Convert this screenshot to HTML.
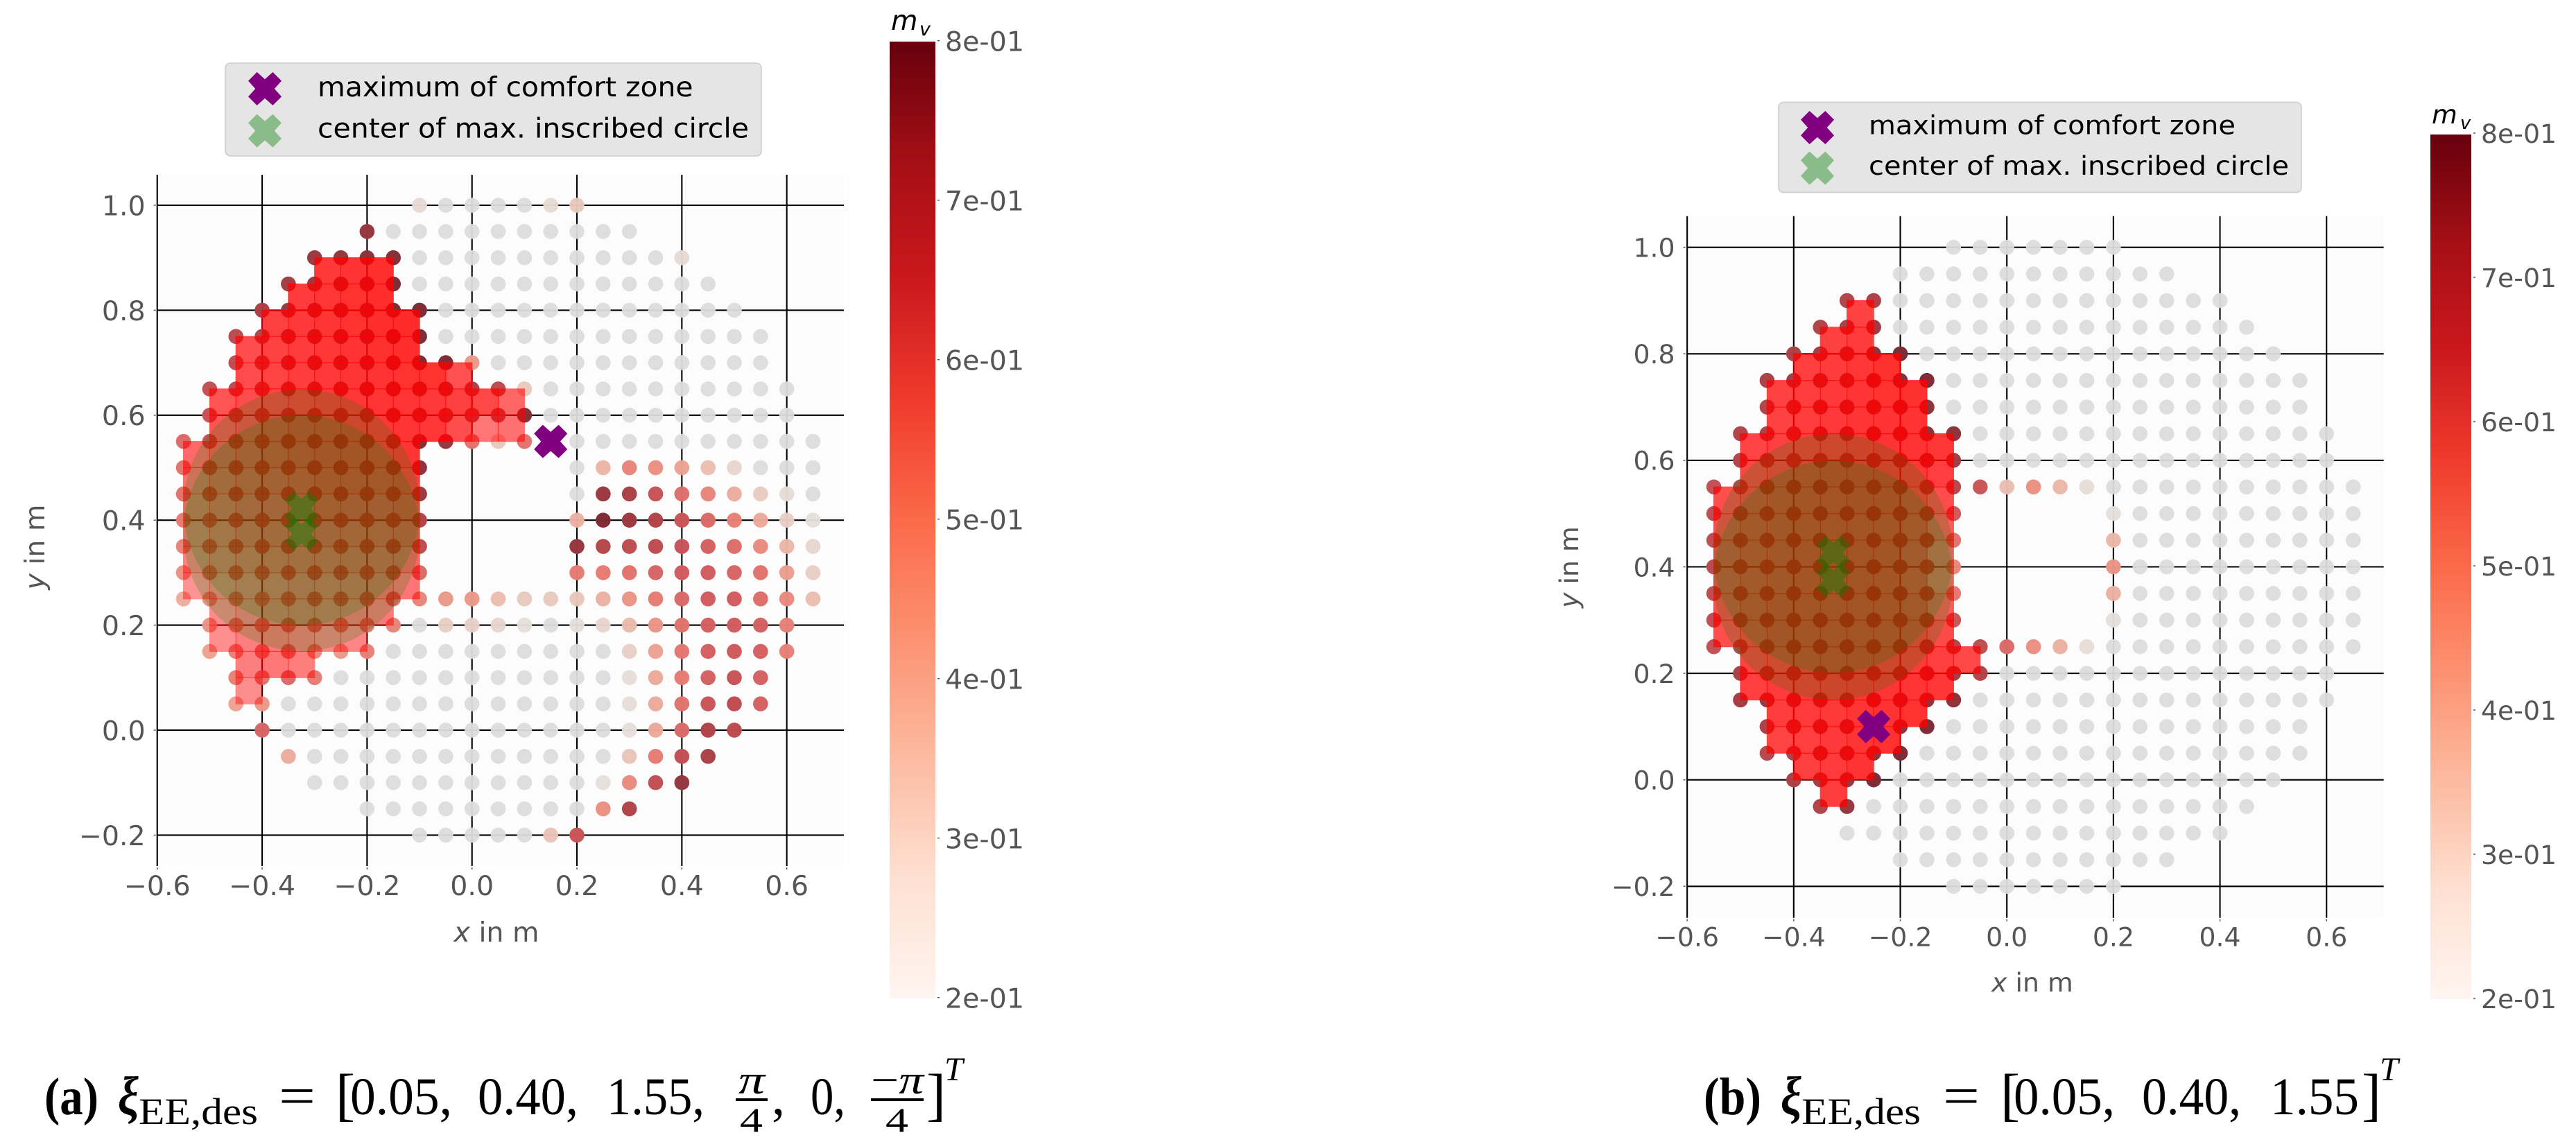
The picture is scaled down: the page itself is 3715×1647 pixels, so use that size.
<!DOCTYPE html>
<html lang="en">
<head>
<meta charset="utf-8">
<title>Comfort zone comparison</title>
<style>
html,body{margin:0;padding:0;background:#fff;width:3715px;height:1647px;overflow:hidden}
svg{display:block}
.sans{font-family:"DejaVu Sans","Liberation Sans",sans-serif}
.serif{font-family:"Liberation Serif",serif;fill:#000}
</style>
</head>
<body>
<svg id="root" class="sans" xmlns="http://www.w3.org/2000/svg" width="3715" height="1647" viewBox="0 0 3715 1647">
<rect x="0" y="0" width="3715" height="1647" fill="#fff"/>
<defs>
<linearGradient id="redsGrad" x1="0" y1="1" x2="0" y2="0">
<stop offset="0" stop-color="#fff5f0"/><stop offset="0.125" stop-color="#fee0d2"/><stop offset="0.25" stop-color="#fcbba1"/><stop offset="0.375" stop-color="#fc9272"/><stop offset="0.5" stop-color="#fb6a4a"/><stop offset="0.625" stop-color="#ef3b2c"/><stop offset="0.75" stop-color="#cb181d"/><stop offset="0.875" stop-color="#a50f15"/><stop offset="1" stop-color="#67000d"/>
</linearGradient>
</defs>
<g id="chartA"></g>
<g id="chartB"></g>

<g class="serif">
<text x="64" y="1607" font-size="76" font-weight="bold" textLength="78" lengthAdjust="spacingAndGlyphs">(a)</text>
<text x="170" y="1607" font-size="78" font-weight="bold" font-style="italic" textLength="30" lengthAdjust="spacingAndGlyphs">ξ</text>
<text x="200" y="1621" font-size="54" textLength="172" lengthAdjust="spacingAndGlyphs">EE,des</text>
<text x="402" y="1607" font-size="78" textLength="53" lengthAdjust="spacingAndGlyphs">=</text>
<text x="484" y="1607" font-size="84">[</text>
<text x="505" y="1607" font-size="76" textLength="147" lengthAdjust="spacingAndGlyphs">0.05,</text>
<text x="689" y="1607" font-size="76" textLength="145" lengthAdjust="spacingAndGlyphs">0.40,</text>
<text x="875" y="1607" font-size="76" textLength="141" lengthAdjust="spacingAndGlyphs">1.55,</text>
<text x="1065" y="1577" font-size="58" font-style="italic" textLength="38" lengthAdjust="spacingAndGlyphs">π</text>
<rect x="1061" y="1584" width="46" height="4" fill="#000"/>
<text x="1067" y="1632" font-size="50" textLength="33" lengthAdjust="spacingAndGlyphs">4</text>
<text x="1113" y="1607" font-size="76">,</text>
<text x="1169" y="1607" font-size="76" textLength="50" lengthAdjust="spacingAndGlyphs">0,</text>
<text x="1256" y="1577" font-size="58" textLength="76" lengthAdjust="spacingAndGlyphs">−<tspan font-style="italic">π</tspan></text>
<rect x="1256" y="1584" width="76" height="4" fill="#000"/>
<text x="1277" y="1632" font-size="50" textLength="33" lengthAdjust="spacingAndGlyphs">4</text>
<text x="1336" y="1607" font-size="84">]</text>
<text x="1362" y="1558" font-size="48" font-style="italic">T</text>
</g>

<g class="serif">
<text x="2457" y="1607" font-size="76" font-weight="bold" textLength="83" lengthAdjust="spacingAndGlyphs">(b)</text>
<text x="2568" y="1607" font-size="78" font-weight="bold" font-style="italic" textLength="30" lengthAdjust="spacingAndGlyphs">ξ</text>
<text x="2598" y="1621" font-size="54" textLength="172" lengthAdjust="spacingAndGlyphs">EE,des</text>
<text x="2802" y="1607" font-size="78" textLength="53" lengthAdjust="spacingAndGlyphs">=</text>
<text x="2885" y="1607" font-size="84">[</text>
<text x="2904" y="1607" font-size="76" textLength="146" lengthAdjust="spacingAndGlyphs">0.05,</text>
<text x="3089" y="1607" font-size="76" textLength="143" lengthAdjust="spacingAndGlyphs">0.40,</text>
<text x="3274" y="1607" font-size="76" textLength="128" lengthAdjust="spacingAndGlyphs">1.55</text>
<text x="3406" y="1607" font-size="84">]</text>
<text x="3432" y="1558" font-size="48" font-style="italic">T</text>
</g>
</svg>

<script>
const _ = null, G = 0;
const gridXValues = [-0.55,-0.5,-0.45,-0.4,-0.35,-0.3,-0.25,-0.2,-0.15,-0.1,-0.05,0,0.05,0.1,0.15,0.2,0.25,0.3,0.35,0.4,0.45,0.5,0.55,0.6,0.65];
const gridYValues = [1,0.95,0.9,0.85,0.8,0.75,0.7,0.65,0.6,0.55,0.5,0.45,0.4,0.35,0.3,0.25,0.2,0.15,0.1,0.05,0,-0.05,-0.1,-0.15,-0.2];
const xTickValues = [-0.6,-0.4,-0.2,0,0.2,0.4,0.6];
const yTickValues = [-0.2,0,0.2,0.4,0.6,0.8,1];
const colorbarTickValues = [0.8,0.7,0.6,0.5,0.4,0.3,0.2];
const colorbarTickLabels = ['8e-01','7e-01','6e-01','5e-01','4e-01','3e-01','2e-01'];
const legendLabels = ['maximum of comfort zone','center of max. inscribed circle'];

const maxComfortA = [0.15,0.55];
const maxComfortB = [-0.25,0.1];
const circleCentersA = [[-0.325,0.4245],[-0.325,0.3755]];
const circleCentersB = [[-0.326,0.4254],[-0.326,0.3746]];
const markerCentersA = [[-0.325,0.4225],[-0.325,0.3737]];
const markerCentersB = [[-0.326,0.427],[-0.326,0.375]];
const circleRadiusA = 0.225;
const circleRadiusB = 0.2245;

const massA = [
[_,_,_,_,_,_,_,_,_,.30,G,G,G,G,.30,.38,_,_,_,_,_,_,_,_,_],
[_,_,_,_,_,_,_,.77,G,G,G,G,G,G,G,G,G,G,_,_,_,_,_,_,_],
[_,_,_,_,_,.76,.77,.78,.79,G,G,G,G,G,G,G,G,G,G,.30,_,_,_,_,_],
[_,_,_,_,.75,.76,.78,.79,.80,G,G,G,G,G,G,G,G,G,G,G,G,_,_,_,_],
[_,_,_,.74,.76,.77,.78,.79,.80,.80,G,G,G,G,G,G,G,G,G,G,G,G,_,_,_],
[_,_,.71,.73,.76,.77,.78,.79,.80,.80,G,G,G,G,G,G,G,G,G,G,G,G,G,_,_],
[_,_,.70,.72,.75,.76,.77,.78,.78,.80,.80,.52,G,G,G,G,G,G,G,G,G,G,G,_,_],
[_,.69,.71,.73,.75,.76,.77,.78,.78,.78,.76,.74,.71,.38,G,G,G,G,G,G,G,G,G,G,_],
[_,.68,.70,.72,.74,.75,.76,.77,.77,.77,.75,.73,.72,.79,G,G,G,G,G,G,G,G,G,G,_],
[.62,.68,.70,.72,.74,.75,.76,.77,.77,.79,.77,.60,.38,.60,_,G,G,G,G,G,G,G,G,G,G],
[.60,.66,.69,.71,.72,.74,.75,.75,.76,.78,_,_,_,_,_,G,.45,.56,.54,.50,.42,.32,G,G,G],
[.60,.65,.67,.69,.70,.72,.73,.73,.73,.76,_,_,_,_,_,G,.76,.74,.68,.61,.56,.47,.37,.28,G],
[.58,.62,.65,.67,.68,.69,.70,.70,.70,.73,_,_,_,_,_,.46,.80,.76,.73,.67,.62,.57,.48,.36,.27],
[.57,.60,.63,.65,.66,.67,.67,.68,.68,.70,_,_,_,_,_,.77,.72,.70,.70,.68,.64,.61,.55,.44,.32],
[.54,.58,.60,.62,.63,.64,.64,.65,.64,.62,_,_,_,_,_,.58,.58,.60,.63,.65,.65,.63,.60,.51,.36],
[.47,.53,.56,.58,.60,.61,.61,.62,.62,.56,.52,.52,.42,.38,.38,.39,.46,.53,.58,.62,.65,.65,.61,.55,.42],
[_,.53,.57,.60,.61,.60,.59,.59,.56,G,.36,.35,.32,.27,G,.25,.32,.43,.53,.60,.64,.65,.64,.57,_],
[_,.50,.57,.60,.60,.55,.52,.57,G,G,G,G,G,G,G,G,G,.35,.50,.59,.64,.66,.64,.57,_],
[_,_,.57,.60,.62,.58,G,G,G,G,G,G,G,G,G,G,G,.28,.48,.58,.64,.68,.64,_,_],
[_,_,.50,.52,G,G,G,G,G,G,G,G,G,G,G,G,G,.28,.48,.60,.67,.70,.64,_,_],
[_,_,_,.63,G,G,G,G,G,G,G,G,G,G,G,G,G,.27,.48,.62,.73,.71,_,_,_],
[_,_,_,_,.47,G,G,G,G,G,G,G,G,G,G,G,G,.40,.58,.69,.74,_,_,_,_],
[_,_,_,_,_,G,G,G,G,G,G,G,G,G,G,G,.27,.55,.69,.77,_,_,_,_,_],
[_,_,_,_,_,_,_,G,G,G,G,G,G,G,G,G,.54,.73,_,_,_,_,_,_,_],
[_,_,_,_,_,_,_,_,_,G,G,G,G,G,.40,.67,_,_,_,_,_,_,_,_,_]
];

const massB = [
[_,_,_,_,_,_,_,_,_,G,G,G,G,G,G,G,_,_,_,_,_,_,_,_,_],
[_,_,_,_,_,_,_,G,G,G,G,G,G,G,G,G,G,G,_,_,_,_,_,_,_],
[_,_,_,_,_,.73,.74,G,G,G,G,G,G,G,G,G,G,G,G,G,_,_,_,_,_],
[_,_,_,_,.73,.74,.76,G,G,G,G,G,G,G,G,G,G,G,G,G,G,_,_,_,_],
[_,_,_,.74,.75,.76,.78,.80,G,G,G,G,G,G,G,G,G,G,G,G,G,G,_,_,_],
[_,_,.74,.75,.76,.77,.78,.79,.80,G,G,G,G,G,G,G,G,G,G,G,G,G,G,_,_],
[_,_,.73,.75,.76,.77,.78,.78,.78,G,G,G,G,G,G,G,G,G,G,G,G,G,G,_,_],
[_,.73,.74,.75,.76,.77,.78,.78,.78,.78,G,G,G,G,G,G,G,G,G,G,G,G,G,G,_],
[_,.73,.74,.75,.76,.77,.78,.78,.78,.75,G,G,G,G,G,G,G,G,G,G,G,G,G,G,_],
[.69,.72,.74,.75,.76,.77,.77,.77,.75,.72,.67,.42,.54,.44,.28,G,G,G,G,G,G,G,G,G,G],
[.70,.73,.74,.75,.76,.76,.76,.76,.73,.66,_,_,_,_,_,.26,G,G,G,G,G,G,G,G,G],
[.70,.73,.74,.75,.76,.76,.76,.75,.72,.60,_,_,_,_,_,.44,G,G,G,G,G,G,G,G,G],
[.71,.73,.74,.75,.76,.76,.76,.75,.70,.56,_,_,_,_,_,.53,G,G,G,G,G,G,G,G,G],
[.70,.73,.74,.75,.76,.76,.76,.75,.71,.59,_,_,_,_,_,.46,G,G,G,G,G,G,G,G,G],
[.70,.73,.75,.75,.76,.76,.76,.75,.74,.67,_,_,_,_,_,.27,G,G,G,G,G,G,G,G,G],
[.69,.72,.74,.75,.76,.76,.76,.76,.75,.73,.70,.62,.54,.46,.28,G,G,G,G,G,G,G,G,G,G],
[_,.74,.75,.76,.76,.77,.77,.77,.77,.75,.73,G,G,G,G,G,G,G,G,G,G,G,G,G,_],
[_,.75,.76,.77,.77,.77,.78,.78,.78,.78,G,G,G,G,G,G,G,G,G,G,G,G,G,G,_],
[_,_,.74,.75,.76,.77,.78,.78,.80,G,G,G,G,G,G,G,G,G,G,G,G,G,G,_,_],
[_,_,.72,.74,.76,.77,.78,.80,G,G,G,G,G,G,G,G,G,G,G,G,G,G,G,_,_],
[_,_,_,.74,.75,.77,.80,G,G,G,G,G,G,G,G,G,G,G,G,G,G,G,_,_,_],
[_,_,_,_,.73,.77,G,G,G,G,G,G,G,G,G,G,G,G,G,G,G,_,_,_,_],
[_,_,_,_,_,G,G,G,G,G,G,G,G,G,G,G,G,G,G,G,_,_,_,_,_],
[_,_,_,_,_,_,_,G,G,G,G,G,G,G,G,G,G,G,_,_,_,_,_,_,_],
[_,_,_,_,_,_,_,_,_,G,G,G,G,G,G,G,_,_,_,_,_,_,_,_,_]
];

const redsStops = [[255,245,240],[254,224,210],[252,187,161],[252,146,114],[251,106,74],[239,59,44],[203,24,29],[165,15,21],[103,0,13]];
const NS = 'http://www.w3.org/2000/svg';

function make(tag, attrs, parent, text) {
  const e = document.createElementNS(NS, tag);
  for (const k in attrs) e.setAttribute(k, attrs[k]);
  if (text !== undefined) e.textContent = text;
  parent.appendChild(e);
  return e;
}
function redsColor(v) {
  const t = Math.max(0, Math.min(1, (v - 0.2) / 0.6)) * (redsStops.length - 1);
  const i = Math.min(redsStops.length - 2, Math.floor(t)), f = t - i;
  const c = redsStops[i].map((a, k) => Math.round(a + (redsStops[i + 1][k] - a) * f));
  return 'rgb(' + c.join(',') + ')';
}
function xMarkerPoints(cx, cy, half) {
  const u = half / 2;
  const shape = [[-0.95,-2],[0,-1.15],[0.95,-2],[2,-0.95],[1.15,0],[2,0.95],[0.95,2],[0,1.15],[-0.95,2],[-2,0.95],[-1.15,0],[-2,-0.95]];
  return shape.map(p => (cx + p[0] * u) + ',' + (cy + p[1] * u)).join(' ');
}
function comfortCells(mass, cx, cy) {
  const nR = mass.length - 1, nC = gridXValues.length - 1;
  const ok = (r, c) => r >= 0 && c >= 0 && r < nR && c < nC &&
    mass[r][c] > 0 && mass[r][c + 1] > 0 && mass[r + 1][c] > 0 && mass[r + 1][c + 1] > 0;
  let start = null, best = 1e9;
  for (let r = 0; r < nR; r++) for (let c = 0; c < nC; c++) {
    if (!ok(r, c)) continue;
    const d = Math.abs(gridXValues[c] + 0.025 - cx) + Math.abs(gridYValues[r] - 0.025 - cy);
    if (d < best) { best = d; start = [r, c]; }
  }
  const seen = new Set(), stack = start ? [start] : [], out = [];
  while (stack.length) {
    const [r, c] = stack.pop(), key = r + '_' + c;
    if (seen.has(key) || !ok(r, c)) continue;
    seen.add(key);
    out.push([r, c]);
    stack.push([r + 1, c], [r - 1, c], [r, c + 1], [r, c - 1]);
  }
  return out;
}

function drawChart(root, cfg, mass, maxPoint, circles, markers, radius) {
  const sx = v => cfg.x0 + v * cfg.kx;
  const sy = v => cfg.y0 - v * cfg.ky;
  const fs = cfg.fontSize;

  const bg = make('rect', {x: cfg.left, y: cfg.top, width: cfg.right - cfg.left, height: cfg.bottom - cfg.top, fill: '#fcfcfc'}, root);
  
  

  xTickValues.forEach(v => {
    const x = sx(v);
    const line = make('line', {x1: x, x2: x, y1: cfg.top, y2: cfg.bottom, stroke: '#000', 'stroke-width': 2.1}, root);
    
    
    const tick = make('line', {x1: x, x2: x, y1: cfg.bottom + 2, y2: cfg.bottom + 5, stroke: '#555', 'stroke-width': 1.5}, root);
    
    
    const label = make('text', {x: x, y: cfg.bottom + cfg.xLabelGap, 'text-anchor': 'middle', 'font-size': fs, fill: '#555'}, root, (v < 0 ? '\u2212' : '') + Math.abs(v).toFixed(1));
    
    
  });
  yTickValues.forEach(v => {
    const y = sy(v);
    const line = make('line', {x1: cfg.left, x2: cfg.right, y1: y, y2: y, stroke: '#000', 'stroke-width': 2.1}, root);
    
    
    const tick = make('line', {x1: cfg.left - 5, x2: cfg.left - 2, y1: y, y2: y, stroke: '#555', 'stroke-width': 1.5}, root);
    
    
    const label = make('text', {x: cfg.left - 17, y: y + fs * 0.365, 'text-anchor': 'end', 'font-size': fs, fill: '#555'}, root, (v < 0 ? '\u2212' : '') + Math.abs(v).toFixed(1));
    
    
  });

  const r = 10.8;
  mass.forEach((row, ri) => row.forEach((v, ci) => {
    if (v === null) return;
    const base = make('circle', {cx: sx(gridXValues[ci]), cy: sy(gridYValues[ri]), r: r, fill: '#dcdcdc', 'fill-opacity': 0.95}, root);
    
    
    if (v > 0) {
      const dot = make('circle', {cx: sx(gridXValues[ci]), cy: sy(gridYValues[ri]), r: r, fill: redsColor(v), 'fill-opacity': v}, root);
      
      
    }
  }));

  comfortCells(mass, circles[0][0], (circles[0][1] + circles[1][1]) / 2).forEach(([ri, ci]) => {
    const mean = (mass[ri][ci] + mass[ri][ci + 1] + mass[ri + 1][ci] + mass[ri + 1][ci + 1]) / 4;
    const x1 = sx(gridXValues[ci]), x2 = sx(gridXValues[ci + 1]);
    const y1 = sy(gridYValues[ri]), y2 = sy(gridYValues[ri + 1]);
    const cell = make('rect', {x: x1 - 0.6, y: y1 - 0.6, width: x2 - x1 + 1.2, height: y2 - y1 + 1.2, fill: '#ff0000', 'fill-opacity': Math.max(0.3, Math.min(0.9, 1.55 * mean - 0.41))}, root);
    
    
  });

  circles.forEach(c => {
    const circle = make('circle', {cx: sx(c[0]), cy: sy(c[1]), r: radius * cfg.kx, fill: '#008000', 'fill-opacity': 0.2}, root);
    
    
  });
  markers.forEach(c => {
    const m = make('polygon', {points: xMarkerPoints(sx(c[0]), sy(c[1]), 24), fill: '#008000', 'fill-opacity': 0.42}, root);
    
    
  });
  const maxMark = make('polygon', {points: xMarkerPoints(sx(maxPoint[0]), sy(maxPoint[1]), 24), fill: '#800080'}, root);
  
  

  const xTitle = make('text', {x: cfg.xTitleX, y: cfg.xTitleY, 'text-anchor': 'middle', 'font-size': fs, fill: '#555'}, root);
  
  
  make('tspan', {'font-style': 'italic'}, xTitle, 'x');
  make('tspan', {}, xTitle, ' in m');
  const yTitle = make('text', {x: cfg.yTitleX, y: cfg.yTitleY, 'text-anchor': 'middle', 'font-size': fs, fill: '#555', transform: 'rotate(-90 ' + cfg.yTitleX + ' ' + cfg.yTitleY + ')'}, root);
  
  
  make('tspan', {'font-style': 'italic'}, yTitle, 'y');
  make('tspan', {}, yTitle, ' in m');

  const lg = make('g', {}, root);
  
  
  const box = make('rect', {x: cfg.lgX, y: cfg.lgY, width: cfg.lgW, height: cfg.lgH, rx: 7, fill: '#e5e5e5', stroke: '#cccccc', 'stroke-width': 1.5}, lg);
  
  
  const lm1 = make('polygon', {points: xMarkerPoints(cfg.lgMarkX, cfg.lgMarkY[0], 24), fill: '#800080'}, lg);
  
  
  const lm2 = make('polygon', {points: xMarkerPoints(cfg.lgMarkX, cfg.lgMarkY[1], 24), fill: '#008000', 'fill-opacity': 0.4}, lg);
  
  
  legendLabels.forEach((t, i) => {
    const lt = make('text', {x: cfg.lgTextX, y: cfg.lgTextY[i], 'font-size': fs, fill: '#000', textLength: cfg.lgTextW[i], lengthAdjust: 'spacingAndGlyphs'}, lg, t);
    
    
  });

  const bar = make('rect', {x: cfg.cbX, y: cfg.cbTop, width: cfg.cbW, height: cfg.cbBottom - cfg.cbTop, fill: 'url(#redsGrad)'}, root);
  
  
  colorbarTickValues.forEach((v, i) => {
    const y = cfg.cbTick0 + (0.8 - v) * cfg.cbStep * 10;
    const tick = make('line', {x1: cfg.cbX + cfg.cbW + 3, x2: cfg.cbX + cfg.cbW + 6, y1: y, y2: y, stroke: '#555', 'stroke-width': 1.5}, root);
    
    
    const label = make('text', {x: cfg.cbLabelX, y: y + fs * 0.37, 'font-size': fs, fill: '#555'}, root, colorbarTickLabels[i]);
    
    
  });
  const cbTitle = make('text', {x: cfg.cbX + 2, y: cfg.mvY, 'font-size': fs, 'font-style': 'italic', fill: '#000'}, root, 'm');
  
  
  const cbSub = make('text', {x: cfg.cbX + 43, y: cfg.mvY + 8, 'font-size': fs * 0.68, 'font-style': 'italic', fill: '#000'}, root, 'v');
  
  
}

drawChart(document.getElementById('chartA'), {
  x0: 680.7, kx: 756.6, y0: 1053, ky: 757,
  left: 226.7, right: 1217, top: 252, bottom: 1249,
  fontSize: 39.5, xLabelGap: 42,
  xTitleX: 716, xTitleY: 1358, yTitleX: 64, yTitleY: 789,
  lgX: 325, lgY: 91, lgW: 773, lgH: 134, lgMarkX: 382, lgMarkY: [128, 188.6],
  lgTextX: 458, lgTextY: [139, 198.6], lgTextW: [541.6, 622],
  cbX: 1283, cbW: 66, cbTop: 60, cbBottom: 1440, cbTick0: 58.7, cbStep: 230, cbLabelX: 1363, mvY: 43
}, massA, maxComfortA, circleCentersA, markerCentersA, circleRadiusA);

drawChart(document.getElementById('chartB'), {
  x0: 2894.2, kx: 768.4, y0: 1124.7, ky: 768,
  left: 2432.6, right: 3437.7, top: 311.7, bottom: 1323.7,
  fontSize: 37.8, xLabelGap: 41,
  xTitleX: 2931, xTitleY: 1430, yTitleX: 2276, yTitleY: 818,
  lgX: 2565, lgY: 147.5, lgW: 754, lgH: 130, lgMarkX: 2621, lgMarkY: [184, 242.5],
  lgTextX: 2695, lgTextY: [193.5, 252], lgTextW: [529, 606],
  cbX: 3505, cbW: 59, cbTop: 194, cbBottom: 1441, cbTick0: 192, cbStep: 208, cbLabelX: 3578, mvY: 178
}, massB, maxComfortB, circleCentersB, markerCentersB, circleRadiusB);
</script>
</body>
</html>
